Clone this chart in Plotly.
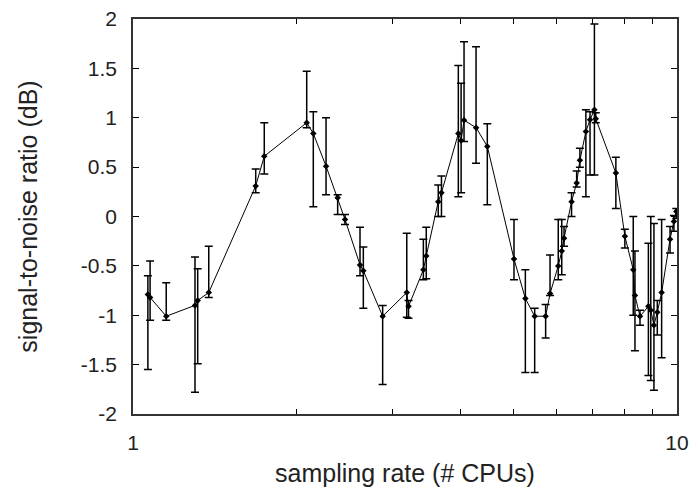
import plotly.graph_objects as go

# sampling rate (# CPUs) and measured SNR with lower/upper bounds
cpus = [1.065, 1.075, 1.151, 1.30, 1.315, 1.378, 1.681, 1.743, 2.086, 2.145,
        2.264, 2.378, 2.453, 2.614, 2.651, 2.877, 3.186, 3.21, 3.418, 3.46,
        3.64, 3.69, 3.963, 4.01, 4.06, 4.272, 4.48, 5.016, 5.263, 5.475,
        5.735, 5.843, 6.05, 6.14, 6.20, 6.40, 6.54, 6.63, 6.80, 6.92,
        7.05, 7.09, 7.72, 8.02, 8.31, 8.37, 8.55, 8.86, 8.95, 9.07,
        9.20, 9.37, 9.71, 9.87, 9.97]
snr = [-0.79, -0.82, -1.01, -0.90, -0.85, -0.77, 0.31, 0.61, 0.95, 0.84,
       0.51, 0.19, -0.03, -0.49, -0.55, -1.01, -0.77, -0.91, -0.54, -0.40,
       0.15, 0.24, 0.84, 0.77, 0.975, 0.90, 0.71, -0.43, -0.83, -1.01,
       -1.01, -0.78, -0.50, -0.35, -0.22, 0.15, 0.34, 0.57, 0.86, 0.98,
       1.08, 0.99, 0.44, -0.20, -0.54, -0.80, -1.01, -0.91, -0.95, -1.10,
       -0.97, -0.77, -0.23, -0.05, 0.05]
snr_low = [-1.55, -1.05, -1.05, -1.78, -1.49, -0.82, 0.24, 0.43, 0.90, 0.10,
           0.22, 0.02, -0.08, -0.60, -0.93, -1.70, -1.02, -1.03, -0.64, -0.63,
           0.00, 0.00, 0.20, 0.24, 0.76, 0.54, 0.12, -0.64, -1.58, -1.58,
           -1.23, -0.80, -0.64, -0.59, -0.30, 0.00, 0.30, 0.50, 0.20, 0.42,
           0.42, 0.95, 0.08, -0.32, -1.00, -1.36, -1.10, -1.61, -1.66, -1.76,
           -1.20, -1.43, -0.37, -0.15, -0.02]
snr_high = [-0.60, -0.45, -0.67, -0.41, -0.53, -0.30, 0.48, 0.95, 1.47, 1.06,
            1.00, 0.22, 0.02, -0.11, -0.31, -0.90, -0.17, -0.85, -0.23, -0.11,
            0.32, 0.41, 1.53, 1.35, 1.77, 1.72, 0.94, -0.03, -0.54, -0.93,
            -0.89, -0.39, -0.03, -0.03, -0.10, 0.24, 0.46, 0.69, 1.08, 1.06,
            1.95, 1.05, 0.60, -0.13, 0.00, -0.35, -0.95, -0.27, 0.00, -0.07,
            -0.85, -0.03, -0.10, 0.01, 0.08]

x_ticks = [1, 2, 3, 4, 5, 6, 7, 8, 9, 10]
x_ticktext = ["1", "", "", "", "", "", "", "", "", "10"]
y_ticks = [-2, -1.5, -1, -0.5, 0, 0.5, 1, 1.5, 2]
y_ticktext = ["-2", "-1.5", "-1", "-0.5", "0", "0.5", "1", "1.5", "2"]

err_plus = [h - v for h, v in zip(snr_high, snr)]
err_minus = [v - l for v, l in zip(snr, snr_low)]

fig = go.Figure()
fig.add_trace(go.Scatter(
    x=cpus, y=snr, mode="lines+markers",
    line=dict(color="black", width=1),
    marker=dict(symbol="diamond", size=5, color="black"),
    error_y=dict(type="data", symmetric=False, array=err_plus,
                 arrayminus=err_minus, color="black", thickness=1.5, width=4),
    showlegend=False,
))

font = "Liberation Sans, Arial, sans-serif"
fig.update_layout(
    width=698, height=494,
    margin=dict(l=125, r=29, t=11, b=88),
    plot_bgcolor="white", paper_bgcolor="white",
    font=dict(family=font, size=21, color="#222"),
    xaxis=dict(
        type="log", range=[0, 1], automargin=False,
        tickvals=x_ticks, ticktext=x_ticktext,
        ticks="inside", ticklen=5, tickcolor="black", ticklabelstandoff=9,
        ticklabeloverflow="allow",
        showline=True, linecolor="#333", linewidth=1.5, mirror="ticks",
        showgrid=False, zeroline=False,
        title=dict(text="sampling rate (# CPUs)", standoff=12),
    ),
    yaxis=dict(
        range=[-2, 2], automargin=False,
        tickvals=y_ticks, ticktext=y_ticktext,
        ticks="inside", ticklen=6, tickcolor="black", ticklabelstandoff=10,
        ticklabeloverflow="allow",
        showline=True, linecolor="#333", linewidth=1.5, mirror="ticks",
        showgrid=False, zeroline=False,
        title=dict(text="signal-to-noise ratio (dB)", standoff=36),
    ),
)

fig.write_html("out.html")
